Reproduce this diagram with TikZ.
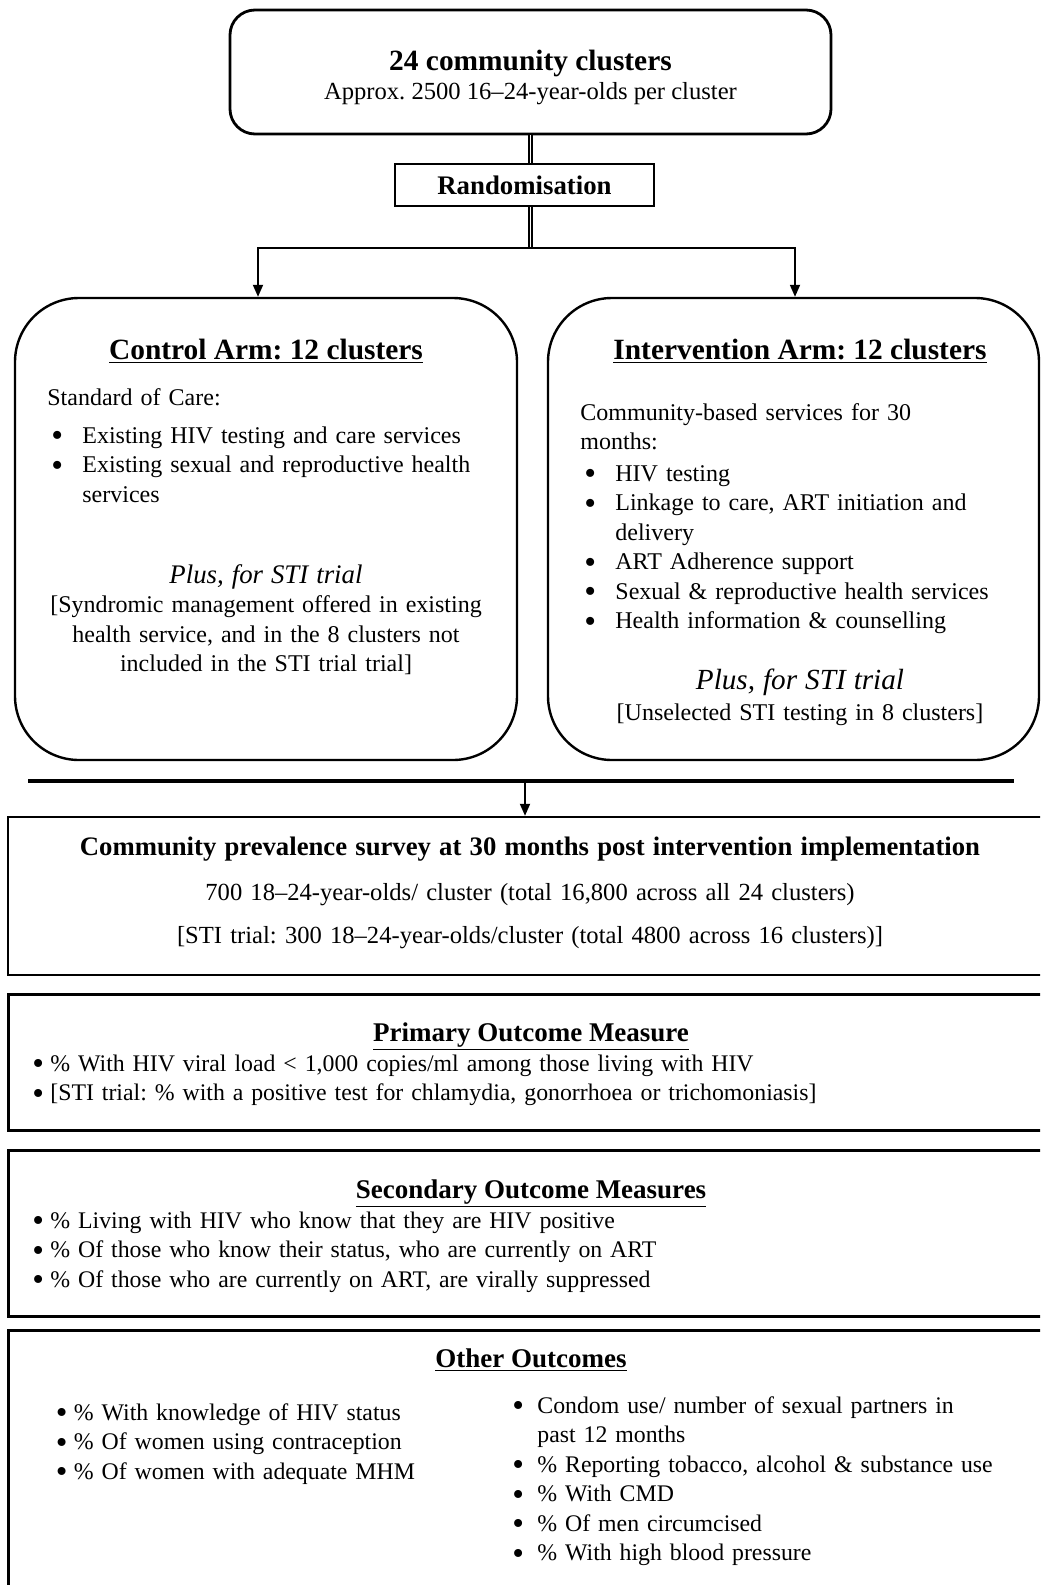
\documentclass[tikz,border=0pt]{standalone}
\usepackage{fontspec}
\setmainfont{Liberation Serif}
\usepackage{graphicx}
\usepackage{tikz}
\usetikzlibrary{positioning,calc,arrows.meta}
\frenchspacing

\newcommand{\bigDot}{\raisebox{-0.15em}{\scalebox{1.4}{\textbullet}}}
\newcommand{\armItem}[1]{\hangindent=17.5pt\hangafter=1\noindent\makebox[17.5pt][l]{\hspace{2pt}\bigDot}#1\par}
\newcommand{\outItem}[2][9pt]{\hangindent=#1\hangafter=1\noindent\makebox[#1][l]{\bigDot}#2\par}

\begin{document}
\begin{tikzpicture}[x=0.5pt,y=-0.5pt]
\tikzset{myFont/.style={font=\fontsize{12.3}{14.75}\selectfont}}
\tikzset{armFont/.style={font=\fontsize{12}{14.75}\selectfont}}
\tikzset{listFont/.style={font=\fontsize{11.9}{14.75}\selectfont}}
\tikzset{myHead/.style={font=\fontsize{14.7}{17.6}\selectfont\bfseries,inner sep=0pt,anchor=base}}
\tikzset{mySub/.style={font=\fontsize{13.5}{16}\selectfont\bfseries,inner sep=0pt,anchor=base}}
\tikzset{myRound/.style={draw,line width=1.2pt,rounded corners=32pt,inner sep=0pt}}
\tikzset{myBox/.style={draw,line width=1.2pt,inner sep=0pt}}
\tikzset{myArrow/.style={line width=0.9pt,-{Triangle[length=6pt,width=5pt]}}}
\tikzset{myDouble/.style={double,line width=1.1pt,double distance=0.4pt}}
\tikzset{myText/.style={inner sep=0pt,anchor=base west,align=left}}
\tikzset{myCenter/.style={inner sep=0pt,anchor=base,align=center}}

\path[use as bounding box,clip] (0,0) rectangle (1040,1585);

% clusters and randomisation
\node[myRound,rounded corners=12.5pt,line width=1.4pt,minimum width=300.5pt,minimum height=62pt] (clusters) at (530.5,72) {};
\node[myHead] (clustersHead) at (530.5,70) {24 community clusters};
\node[myCenter,myFont] (clustersText) at (530.5,99) {Approx. 2500 16--24-year-olds per cluster};
\node[myBox,line width=0.8pt,minimum width=129.5pt,minimum height=21pt,font=\fontsize{13.4}{16}\selectfont\bfseries] (rand) at (524.5,185) {Randomisation};

% arms
\node[myRound,minimum width=251pt,minimum height=231pt] (ctrl) at (266,529) {};
\node[myRound,minimum width=245.5pt,minimum height=231pt] (intv) at (793.5,529) {};

\coordinate (split) at (530.5,248);
\draw[myDouble] (clusters.south) -- (clusters.south |- rand.north);
\draw[myDouble] (clusters.south |- rand.south) -- (split);
\draw[myArrow] (split) -| ([xshift=-4pt]ctrl.north);
\draw[myArrow] (split) -| ([xshift=0.75pt]intv.north);

\node[myHead] (ctrlHead) at (266,359) {\underline{Control Arm: 12 clusters}};
\node[myText,armFont,text width=230pt] (ctrlCare) at (47,405) {Standard of Care:\par\vspace{4.25pt}%
\armItem{Existing HIV testing and care services}%
\armItem{Existing sexual and reproductive health\newline services}};
\node[myCenter,armFont,text width=240pt] (ctrlSti) at (266,583) {{\fontsize{13.4}{14.75}\selectfont\itshape Plus, for STI trial}\\{}[Syndromic management offered in existing\\health service, and in the 8 clusters not\\included in the STI trial trial]};

\node[myHead] (intvHead) at (800,359) {\underline{Intervention Arm: 12 clusters}};
\node[myText,armFont,text width=230pt] (intvServ) at (580,420) {Community-based services for 30\newline months:\par\vspace{1pt}%
\armItem{HIV testing}%
\armItem{Linkage to care, ART initiation and\newline delivery}%
\armItem{ART Adherence support}%
\armItem{Sexual \& reproductive health services}%
\armItem{Health information \& counselling}};
\node[myCenter,armFont,text width=240pt] (intvSti) at (800,689) {{\fontsize{14.6}{14.75}\selectfont\itshape Plus, for STI trial}\\[1pt]{}[Unselected STI testing in 8 clusters]};

% survey
\coordinate (barL) at (28,781);
\coordinate (barR) at (1014,781);
\coordinate (barM) at (525,781);
\draw[line width=2.4pt] (barL) -- (barR);
\node[myBox,minimum width=526pt,minimum height=79pt] (survey) at (534,896) {};
\draw[myArrow] (barM) -- (barM |- survey.north);
\node[myCenter,myFont,text width=500pt] (surveyText) at (530,855) {{\fontsize{13.35}{14.75}\selectfont\bfseries Community prevalence survey at 30 months post intervention implementation}\\[7.75pt]700 18--24-year-olds/ cluster (total 16,800 across all 24 clusters)\\[6.75pt]{}[STI trial: 300 18--24-year-olds/cluster (total 4800 across 16 clusters)]};

% outcomes
\node[myBox,line width=1.5pt,minimum width=526pt,minimum height=68pt] (primary) at (534,1062) {};
\node[mySub] (primaryHead) at (531,1041) {\underline{Primary Outcome Measure}};
\node[myText,listFont,text width=500pt] (primaryList) at (32,1071) {%
\outItem{\% With HIV viral load < 1,000 copies/ml among those living with HIV}%
\outItem{[STI trial: \% with a positive test for chlamydia, gonorrhoea or trichomoniasis]}};

\node[myBox,line width=1.5pt,minimum width=526pt,minimum height=83pt] (secondary) at (534,1233) {};
\node[mySub] (secondaryHead) at (531,1198) {\underline{Secondary Outcome Measures}};
\node[myText,listFont,text width=500pt] (secondaryList) at (32,1228) {%
\outItem{\% Living with HIV who know that they are HIV positive}%
\outItem{\% Of those who know their status, who are currently on ART}%
\outItem{\% Of those who are currently on ART, are virally suppressed}};

\node[myBox,line width=1.5pt,minimum width=526pt,minimum height=135pt] (other) at (534,1465) {};
\node[mySub] (otherHead) at (531,1367) {\underline{Other Outcomes}};
\node[myText,listFont,text width=220pt] (otherLeft) at (55.5,1420) {%
\outItem{\% With knowledge of HIV status}%
\outItem{\% Of women using contraception}%
\outItem{\% Of women with adequate MHM}};
\node[myText,listFont,text width=250pt] (otherRight) at (512,1413) {%
\outItem[12.5pt]{Condom use/ number of sexual partners in\newline past 12 months}%
\outItem[12.5pt]{\% Reporting tobacco, alcohol \& substance use}%
\outItem[12.5pt]{\% With CMD}%
\outItem[12.5pt]{\% Of men circumcised}%
\outItem[12.5pt]{\% With high blood pressure}};
\end{tikzpicture}
\end{document}
